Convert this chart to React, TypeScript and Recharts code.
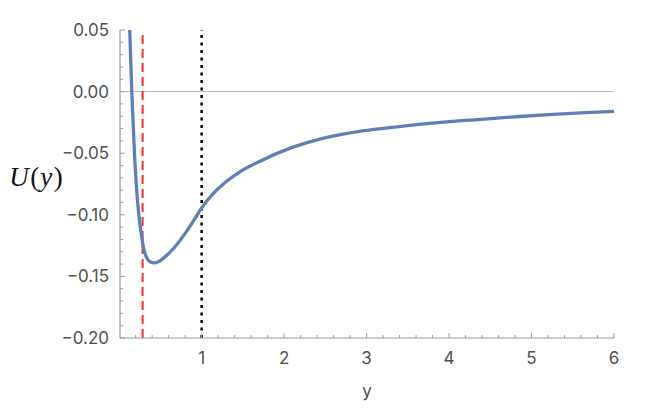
import React from 'react';
import { LineChart, Line, XAxis, YAxis, ReferenceLine } from 'recharts';

const yValues = [0.128, 0.153, 0.184, 0.213, 0.232, 0.253, 0.281, 0.301, 0.334, 0.374, 0.426, 0.475, 0.556, 0.677, 0.798, 0.919, 1.0, 1.14, 1.303, 1.464, 1.67, 2.09, 2.493, 2.896, 3.278, 3.521, 3.763, 4.005, 4.247, 4.47, 4.853, 5.257, 5.661, 6.0];
const uValues = [0.05, 0, -0.048, -0.081, -0.0955, -0.1085, -0.1213, -0.1284, -0.1349, -0.1381, -0.139, -0.1381, -0.1341, -0.1259, -0.1153, -0.103, -0.0944, -0.0829, -0.0728, -0.0651, -0.0577, -0.0455, -0.0375, -0.0325, -0.0293, -0.0274, -0.0258, -0.0244, -0.0232, -0.0221, -0.0202, -0.0185, -0.0171, -0.0161];

const xTicks = [0.2, 0.4, 0.6, 0.8, 1, 1.2, 1.4, 1.6, 1.8, 2, 2.2, 2.4, 2.6, 2.8, 3, 3.2, 3.4, 3.6, 3.8, 4, 4.2, 4.4, 4.6, 4.8, 5, 5.2, 5.4, 5.6, 5.8, 6];
const xMajor = [1, 2, 3, 4, 5, 6];
const yTicks = [-0.2, -0.19, -0.18, -0.17, -0.16, -0.15, -0.14, -0.13, -0.12, -0.11, -0.1, -0.09, -0.08, -0.07, -0.06, -0.05, -0.04, -0.03, -0.02, -0.01, 0, 0.01, 0.02, 0.03, 0.04, 0.05];
const yMajor = [-0.2, -0.15, -0.1, -0.05, 0, 0.05];
const yLabels = ['\u22120.20', '\u22120.15', '\u22120.10', '\u22120.05', '0.00', '0.05'];

const redLineAt = 0.284;
const blackLineAt = 1;

const data = yValues.map((x, i) => ({ x, u: uValues[i] }));

const AXIS = '#9a9a9a';
const LABEL = '#4f4f4f';
const FONT = 'Inter, "Liberation Sans", sans-serif';

const isMajor = (v: number, list: number[]) => list.some((m) => Math.abs(m - v) < 1e-6);

const BottomTick = (props: any) => {
  const { x, y, payload } = props;
  const major = isMajor(payload.value, xMajor);
  return (
    <g>
      <line x1={x} y1={y} x2={x} y2={y - (major ? 5 : 3)} stroke={AXIS} strokeWidth={1} />
      {major && (
        <text x={x} y={y + 20} textAnchor="middle" dominantBaseline="central" fill={LABEL} fontSize={17} fontFamily={FONT}>
          {String(payload.value)}
        </text>
      )}
    </g>
  );
};

const TopTick = (props: any) => {
  const { x, y, payload } = props;
  const major = isMajor(payload.value, xMajor);
  return <line x1={x} y1={y} x2={x} y2={y + (major ? 5 : 3)} stroke={AXIS} strokeWidth={1} />;
};

const LeftTick = (props: any) => {
  const { x, y, payload } = props;
  const idx = yMajor.findIndex((m) => Math.abs(m - payload.value) < 1e-6);
  const major = idx >= 0;
  return (
    <g>
      <line x1={x} y1={y} x2={x + (major ? 5 : 3)} y2={y} stroke={AXIS} strokeWidth={1} />
      {major && (
        <text x={x - 11} y={y} textAnchor="end" dominantBaseline="central" fill={LABEL} fontSize={17} fontFamily={FONT}>
          {yLabels[idx]}
        </text>
      )}
    </g>
  );
};

const RightTick = (props: any) => {
  const { x, y, payload } = props;
  const major = isMajor(payload.value, yMajor);
  return <line x1={x} y1={y} x2={x - (major ? 5 : 3)} y2={y} stroke={AXIS} strokeWidth={1} />;
};

export default function App() {
  return (
    <div style={{ position: 'absolute', left: 0, top: 0, width: 670, height: 420, background: '#fff' }}>
      <LineChart width={670} height={420} data={data} margin={{ top: 30, right: 56, bottom: 0, left: 0 }}>
        <XAxis
          dataKey="x"
          type="number"
          domain={[0.01, 6]}
          ticks={xTicks}
          interval={0}
          tickSize={0}
          tickMargin={0}
          tickLine={false}
          height={82}
          axisLine={{ stroke: AXIS, strokeWidth: 1.2 }}
          tick={<BottomTick />}
          allowDataOverflow
          label={{
            content: () => (
              <text x={367} y={391} textAnchor="middle" dominantBaseline="central" fill={LABEL} fontSize={17} fontFamily={FONT}>
                y
              </text>
            ),
          }}
        />
        <XAxis
          xAxisId="top"
          orientation="top"
          dataKey="x"
          type="number"
          domain={[0.01, 6]}
          ticks={xTicks}
          interval={0}
          tickSize={0}
          tickMargin={0}
          tickLine={false}
          height={0}
          axisLine={{ stroke: AXIS, strokeWidth: 1.2 }}
          tick={<TopTick />}
          allowDataOverflow
        />
        <YAxis
          type="number"
          domain={[-0.2, 0.05]}
          ticks={yTicks}
          interval={0}
          tickSize={0}
          tickMargin={0}
          tickLine={false}
          width={120}
          axisLine={{ stroke: AXIS, strokeWidth: 1.2 }}
          tick={<LeftTick />}
          allowDataOverflow
          label={{
            content: () => (
              <text x={36} y={177} textAnchor="middle" dominantBaseline="central" fill="#111" fontSize={27} fontFamily='"Liberation Serif", "DejaVu Serif", serif'>
                <tspan fontStyle="italic">U</tspan>
                <tspan dx={1.5}>(</tspan>
                <tspan fontStyle="italic" dx={1}>y</tspan>
                <tspan dx={1.5}>)</tspan>
              </text>
            ),
          }}
        />
        <YAxis
          yAxisId="right"
          orientation="right"
          type="number"
          domain={[-0.2, 0.05]}
          ticks={yTicks}
          interval={0}
          tickSize={0}
          tickMargin={0}
          tickLine={false}
          width={0}
          axisLine={{ stroke: AXIS, strokeWidth: 1.2 }}
          tick={<RightTick />}
          allowDataOverflow
        />
        <ReferenceLine y={0} stroke="#b5b5b5" strokeWidth={1} />
        <ReferenceLine x={redLineAt} stroke="#e8312a" strokeWidth={2} strokeDasharray="9 5" />
        <ReferenceLine x={blackLineAt} stroke="#000" strokeWidth={2.5} strokeDasharray="3 4.5" />
        <Line
          dataKey="u"
          type="monotone"
          stroke="#5e81b5"
          strokeWidth={3.3}
          dot={false}
          activeDot={false}
          isAnimationActive={false}
        />
      </LineChart>
    </div>
  );
}
